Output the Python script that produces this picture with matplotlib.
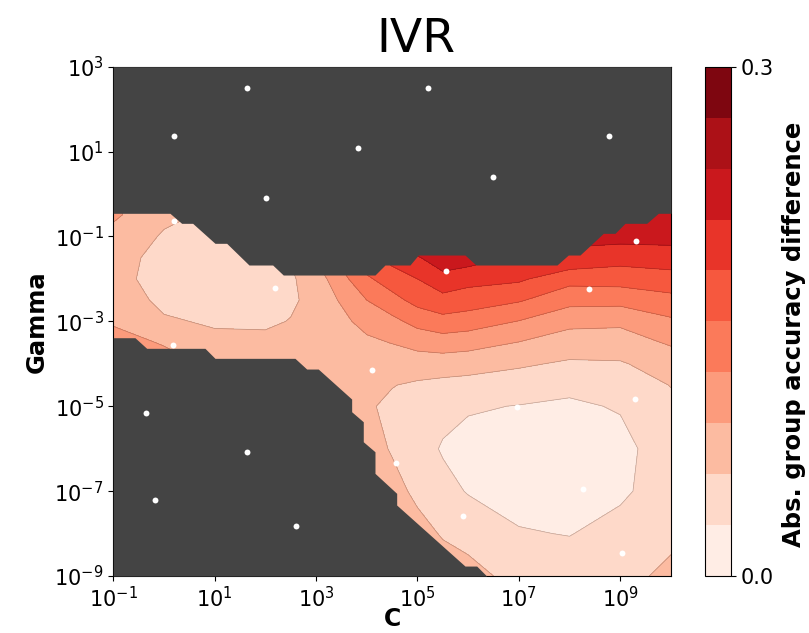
import numpy as np
import matplotlib
matplotlib.use('Agg')
import matplotlib.pyplot as plt
from matplotlib.ticker import FixedLocator, FuncFormatter, NullLocator

# grid of the surface (log10 units)
log_C = [-1, 0, 1, 2, 2.5, 3, 4, 4.5, 5, 5.5, 6, 7, 8, 9, 10]
log_gamma = [-9, -8, -7, -6, -5, -4.5, -4, -3.5, -3, -2.5, -2, -1.5,
             -1, -0.5, 0, 1, 2, 3]

# abs. group accuracy difference, one list per C column (gamma ascending)
acc_diff = [
    [0.12, 0.12, 0.12, 0.12, 0.12, 0.118, 0.11, 0.10, 0.087, 0.075, 0.07,
     0.072, 0.08, 0.095, 0.10, 0.11, 0.12, 0.12],                    # 1e-1
    [0.11, 0.11, 0.11, 0.11, 0.11, 0.105, 0.10, 0.088, 0.063, 0.054, 0.048,
     0.05, 0.057, 0.066, 0.07, 0.08, 0.09, 0.10],                    # 1e0
    [0.095, 0.095, 0.095, 0.095, 0.095, 0.09, 0.085, 0.066, 0.057, 0.047,
     0.043, 0.045, 0.05, 0.055, 0.06, 0.07, 0.08, 0.09],             # 1e1
    [0.08, 0.08, 0.08, 0.08, 0.08, 0.078, 0.075, 0.066, 0.056, 0.049, 0.048,
     0.044, 0.046, 0.05, 0.055, 0.065, 0.075, 0.085],                # 1e2
    [0.075, 0.075, 0.075, 0.075, 0.075, 0.074, 0.072, 0.066, 0.061, 0.056,
     0.056, 0.062, 0.07, 0.08, 0.09, 0.10, 0.11, 0.12],              # 10^2.5
    [0.07, 0.07, 0.07, 0.07, 0.07, 0.07, 0.068, 0.066, 0.066, 0.068, 0.075,
     0.092, 0.105, 0.115, 0.125, 0.14, 0.15, 0.16],                  # 1e3
    [0.08, 0.078, 0.078, 0.07, 0.063, 0.064, 0.072, 0.084, 0.10, 0.12, 0.145,
     0.17, 0.19, 0.20, 0.21, 0.22, 0.23, 0.24],                      # 1e4
    [0.08, 0.075, 0.068, 0.058, 0.055, 0.061, 0.072, 0.091, 0.112, 0.14,
     0.165, 0.19, 0.22, 0.235, 0.245, 0.26, 0.27, 0.27],             # 10^4.5
    [0.075, 0.068, 0.055, 0.044, 0.05, 0.056, 0.075, 0.10, 0.13, 0.16,
     0.18, 0.207, 0.24, 0.26, 0.27, 0.28, 0.29, 0.29],               # 1e5
    [0.072, 0.058, 0.04, 0.027, 0.04, 0.052, 0.075, 0.105, 0.14, 0.17,
     0.20, 0.228, 0.26, 0.28, 0.29, 0.29, 0.29, 0.29],               # 10^5.5
    [0.07, 0.05, 0.028, 0.02, 0.033, 0.05, 0.072, 0.102, 0.135, 0.165, 0.19,
     0.225, 0.25, 0.27, 0.28, 0.29, 0.29, 0.29],                     # 1e6
    [0.05, 0.032, 0.02, 0.018, 0.029, 0.045, 0.064, 0.089, 0.119, 0.153,
     0.185, 0.205, 0.24, 0.26, 0.27, 0.28, 0.28, 0.28],              # 1e7
    [0.045, 0.029, 0.016, 0.015, 0.026, 0.036, 0.056, 0.076, 0.098, 0.13,
     0.16, 0.205, 0.215, 0.235, 0.25, 0.26, 0.27, 0.27],             # 1e8
    [0.052, 0.04, 0.025, 0.022, 0.032, 0.042, 0.057, 0.078, 0.095, 0.13,
     0.162, 0.192, 0.22, 0.235, 0.25, 0.26, 0.27, 0.27],             # 1e9
    [0.066, 0.054, 0.045, 0.045, 0.053, 0.061, 0.075, 0.093, 0.115, 0.141,
     0.168, 0.196, 0.22, 0.235, 0.25, 0.26, 0.27, 0.27],             # 1e10
]

# sampled (C, gamma) points, log10
sample_log_C = [1.637, 5.207, 0.197, 8.777, 3.826, 6.489, 2.012, 0.197,
                9.31, 5.562, 2.189, 8.383, 0.178, 4.103, -0.355, 6.962,
                9.29, 1.637, 4.576, 8.264, -0.178, 5.897, 2.604, 9.034]
sample_log_gamma = [2.498, 2.498, 1.367, 1.367, 1.084, 0.401, -0.094, -0.636,
                    -1.107, -1.814, -2.215, -2.238, -3.558, -4.147, -5.16,
                    -5.018, -4.83, -6.079, -6.338, -6.95, -7.21, -7.587,
                    -7.822, -8.459]

# edges of the region without results
upper_edge_C = [-1, 0.118, 0.349, 0.566, 1.006, 1.237, 1.677, 2.144, 2.353,
                4.162, 4.359, 4.852, 5.016, 5.937, 6.154, 7.752, 7.974,
                8.205, 8.665, 8.896, 9.093, 9.521, 9.75, 10]
upper_edge_gamma = [-0.454, -0.454, -0.69, -0.69, -1.161, -1.161, -1.672,
                    -1.672, -1.908, -1.908, -1.672, -1.672, -1.437, -1.437,
                    -1.672, -1.672, -1.437, -1.437, -0.926, -0.926, -0.69,
                    -0.69, -0.454, -0.454]
lower_edge_C = [-1, -0.572, -0.341, 0.809, 1.006, 2.584, 2.815, 3.043, 3.702,
                3.702, 3.931, 3.931, 4.162, 4.162, 4.59, 4.59, 5.937, 6.168,
                6.365]
lower_edge_gamma = [-3.385, -3.385, -3.635, -3.635, -3.871, -3.871, -4.123,
                    -4.123, -4.83, -5.129, -5.365, -5.836, -6.072, -6.581,
                    -7.052, -7.327, -8.765, -8.765, -9]

Z = np.array(acc_diff).T
levels = np.linspace(0, 0.3, 11)

fig = plt.figure(figsize=(8.09, 6.33), dpi=100)
ax = fig.add_axes([0.1400, 0.0900, 0.6894, 0.8046])
cax = fig.add_axes([0.8714, 0.0900, 0.0321, 0.8046])

cs = ax.contourf(log_C, log_gamma, Z, levels=levels, cmap='Reds')
ax.contour(log_C, log_gamma, Z, levels=levels[1:-1], colors='k',
           linewidths=0.5, alpha=0.25)
ax.fill_between(upper_edge_C, upper_edge_gamma, 3, color='#444444',
                lw=0, zorder=3)
ax.fill_between(lower_edge_C, -9, lower_edge_gamma, color='#444444',
                lw=0, zorder=3)
ax.scatter(sample_log_C, sample_log_gamma, s=18, c='white', lw=0, zorder=4)

ax.set_xlim(-1, 10)
ax.set_ylim(-9, 3)
pow10 = FuncFormatter(lambda v, pos: r'$\mathdefault{10^{%d}}$' % round(v))
ax.xaxis.set_major_locator(FixedLocator(range(-1, 10, 2)))
ax.yaxis.set_major_locator(FixedLocator(range(-9, 4, 2)))
ax.xaxis.set_major_formatter(pow10)
ax.yaxis.set_major_formatter(pow10)
ax.xaxis.set_minor_locator(NullLocator())
ax.yaxis.set_minor_locator(NullLocator())
ax.tick_params(labelsize=15)
ax.set_xlabel('C', fontsize=17, fontweight='bold', labelpad=-3)
ax.set_ylabel('Gamma', fontsize=17.5, fontweight='bold')

cbar = fig.colorbar(cs, cax=cax, ticks=[0, 0.3])
cbar.ax.set_yticklabels(['0.0', '0.3'])
cbar.ax.tick_params(labelsize=15)
cbar.set_label('Abs. group accuracy difference', fontsize=17.5,
               fontweight='bold', labelpad=6)
cbar.ax.yaxis.label.set_y(0.475)

fig.text(416 / 809, 1 - 52 / 633, 'IVR', fontsize=34, ha='center',
         va='baseline')

fig.savefig('out.png', dpi=100)
